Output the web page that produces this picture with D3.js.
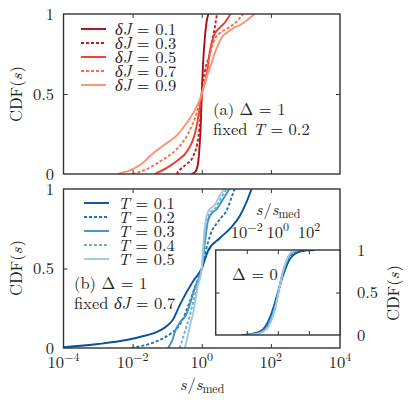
<!DOCTYPE html>
<html>
<head>
<meta charset="utf-8">
<script src="https://cdn.jsdelivr.net/npm/d3@7"></script>
</head>
<body style="margin:0;background:#fff">
<div id="chart"></div>
<script>
// values are [log10(s/s_med), CDF]
var dJLabels = ["0.1", "0.3", "0.5", "0.7", "0.9"];
var dJ01 = [[-0.3,0],[-0.2,0.01],[-0.12,0.05],[-0.07,0.15],[-0.03,0.3],[0,0.5],[0.04,0.7],[0.09,0.85],[0.14,0.95],[0.19,1]];
var dJ03 = [[-0.73,0],[-0.64,0.025],[-0.45,0.06],[-0.25,0.11],[-0.1,0.23],[-0.04,0.35],[0,0.5],[0.1,0.65],[0.23,0.75],[0.32,0.85],[0.38,0.92],[0.44,1]];
var dJ05 = [[-1.36,0],[-1.0,0.04],[-0.73,0.08],[-0.4,0.15],[-0.2,0.25],[-0.08,0.38],[0,0.5],[0.14,0.61],[0.23,0.76],[0.36,0.87],[0.5,0.91],[0.68,0.95],[0.83,1]];
var dJ07 = [[-2.0,0],[-1.6,0.03],[-1.2,0.08],[-0.75,0.15],[-0.4,0.25],[-0.15,0.38],[0,0.5],[0.09,0.58],[0.18,0.69],[0.33,0.82],[0.52,0.88],[0.75,0.91],[0.95,0.94],[1.2,1]];
var dJ09 = [[-2.43,0],[-2.0,0.03],[-1.7,0.07],[-1.46,0.12],[-1.1,0.18],[-0.73,0.24],[-0.4,0.33],[-0.15,0.42],[0,0.5],[0.1,0.58],[0.23,0.66],[0.42,0.78],[0.6,0.86],[0.71,0.88],[0.9,0.91],[1.1,0.93],[1.3,0.96],[1.53,1]];

var TLabels = ["0.1", "0.2", "0.3", "0.4", "0.5"];
var T01 = [[-4,0.005],[-3,0.025],[-2.18,0.05],[-1.6,0.08],[-1.31,0.1],[-1.0,0.14],[-0.83,0.18],[-0.7,0.24],[-0.59,0.29],[-0.25,0.42],[0,0.5],[0.18,0.61],[0.52,0.69],[0.86,0.76],[1.1,0.83],[1.3,0.92],[1.44,1]];
var T02 = [[-2.03,0],[-1.6,0.02],[-1.22,0.05],[-0.9,0.09],[-0.73,0.12],[-0.55,0.18],[-0.4,0.26],[-0.2,0.38],[0,0.5],[0.15,0.64],[0.3,0.74],[0.42,0.78],[0.6,0.83],[0.71,0.86],[0.85,0.94],[0.95,1]];
var T03 = [[-0.98,0],[-0.85,0.05],[-0.78,0.1],[-0.6,0.17],[-0.45,0.21],[-0.38,0.25],[-0.2,0.38],[0,0.5],[0.1,0.68],[0.18,0.8],[0.3,0.85],[0.42,0.87],[0.6,0.93],[0.8,1]];
var T04 = [[-0.64,0],[-0.55,0.06],[-0.45,0.13],[-0.35,0.2],[-0.28,0.26],[-0.12,0.4],[0,0.5],[0.08,0.7],[0.14,0.8],[0.25,0.85],[0.4,0.88],[0.55,0.94],[0.72,1]];
var T05 = [[-0.49,0],[-0.4,0.08],[-0.32,0.16],[-0.27,0.2],[-0.1,0.4],[0,0.5],[0.07,0.72],[0.13,0.82],[0.22,0.87],[0.38,0.9],[0.5,0.95],[0.65,1]];

// inset, Delta = 0
var in01 = [[-2.34,0],[-1.8,0.01],[-1.16,0.04],[-0.8,0.1],[-0.52,0.2],[-0.25,0.34],[0,0.5],[0.22,0.64],[0.45,0.76],[0.7,0.87],[0.99,0.94],[1.4,0.98],[1.85,0.995],[2.39,1]];
var in02 = [[-2.2,0],[-1.6,0.01],[-1.0,0.05],[-0.65,0.13],[-0.35,0.27],[0,0.49],[0.28,0.7],[0.5,0.82],[0.75,0.91],[1.05,0.97],[1.5,0.995],[1.9,1]];
var in03 = [[-2.1,0],[-1.5,0.01],[-0.84,0.06],[-0.5,0.16],[-0.19,0.32],[0,0.47],[0.34,0.74],[0.55,0.86],[0.77,0.94],[1.1,0.985],[1.42,1]];
var in04 = [[-2.0,0],[-1.45,0.01],[-0.8,0.06],[-0.45,0.17],[-0.15,0.34],[0,0.47],[0.32,0.74],[0.55,0.87],[0.77,0.95],[1.1,0.99],[1.4,1]];
var in05 = [[-1.95,0],[-1.4,0.01],[-0.78,0.06],[-0.42,0.17],[-0.12,0.35],[0,0.46],[0.3,0.73],[0.52,0.86],[0.75,0.95],[1.05,0.99],[1.35,1]];

var xTicks = [1e-4, 1e-2, 1, 1e2, 1e4];
var xTickExp = ["\u22124", "\u22122", "0", "2", "4"];
var yTicks = [0, 0.5, 1];
var yTickLabels = ["0", "0.5", "1"];

var reds = ["#a50f15", "#cb181d", "#ef3b2c", "#fb6a4a", "#fc9272"];
var blues = ["#08519c", "#2171b5", "#4292c6", "#6baed6", "#9ecae1"];
var dashed = [false, true, false, true, false];

var FONT = "Latin Modern Roman, Liberation Serif, serif";
var FS = 16.5;

var svg = d3.select("#chart").append("svg")
    .attr("width", 415)
    .attr("height", 402)
    .attr("font-family", FONT);

var x = d3.scaleLog().domain([1e-4, 1e4]).range([63.5, 340]);
var yA = d3.scaleLinear().domain([0, 1]).range([174, 14]);
var yB = d3.scaleLinear().domain([0, 1]).range([348, 189]);
var xi = d3.scaleLog().domain([1e-4, 1e4]).range([215.7, 340]);
var yi = d3.scaleLinear().domain([0, 1]).range([335, 250]);

function txt(xPos, yPos) {
  return svg.append("text")
    .attr("x", xPos).attr("y", yPos)
    .attr("font-family", FONT)
    .attr("font-size", FS)
    .attr("fill", "#222")
    .attr("xml:space", "preserve");
}

function drawFrame(xs, ys, tickLen) {
  var g = svg.append("g");
  var x0 = xs.range()[0], x1 = xs.range()[1], y0 = ys.range()[0], y1 = ys.range()[1];
  // inner ticks on all sides
  g.append("g").attr("transform", `translate(0,${y0})`)
    .call(d3.axisTop(xs).tickValues([1e-2, 1, 1e2]).tickSize(tickLen).tickFormat(""));
  g.append("g").attr("transform", `translate(0,${y1})`)
    .call(d3.axisBottom(xs).tickValues([1e-2, 1, 1e2]).tickSize(tickLen).tickFormat(""));
  g.append("g").attr("transform", `translate(${x0},0)`)
    .call(d3.axisRight(ys).tickValues([0.5]).tickSize(tickLen).tickFormat(""));
  g.append("g").attr("transform", `translate(${x1},0)`)
    .call(d3.axisLeft(ys).tickValues([0.5]).tickSize(tickLen).tickFormat(""));
  g.selectAll(".domain").remove();
  g.selectAll(".tick line").attr("stroke", "#333").attr("stroke-width", 1);
  g.append("rect")
    .attr("x", x0).attr("y", y1)
    .attr("width", x1 - x0).attr("height", y0 - y1)
    .attr("fill", "none").attr("stroke", "#333").attr("stroke-width", 1.4);
  return g;
}

function drawCurves(series, colors, xs, ys, clipId) {
  var line = d3.line()
      .x(d => xs(Math.pow(10, d[0])))
      .y(d => ys(d[1]))
      .curve(d3.curveMonotoneX);
  var g = svg.append("g").attr("clip-path", `url(#${clipId})`);
  series.forEach(function(s, i) {
    g.append("path")
      .attr("d", line(s))
      .attr("fill", "none")
      .attr("stroke", colors[i])
      .attr("stroke-width", 1.9)
      .attr("stroke-dasharray", dashed[i] ? "3,2" : null);
  });
}

function addClip(id, xs, ys) {
  svg.append("clipPath").attr("id", id).append("rect")
    .attr("x", xs.range()[0]).attr("y", ys.range()[1])
    .attr("width", xs.range()[1] - xs.range()[0])
    .attr("height", ys.range()[0] - ys.range()[1]);
}

function yLabels(ys, xPos, anchor) {
  yTicks.forEach(function(v, i) {
    txt(xPos, ys(v) + 5.5)
      .attr("text-anchor", anchor)
      .text(yTickLabels[i]);
  });
}

function cdfLabel(xPos, yPos) {
  var t = txt(0, 0)
    .attr("transform", `translate(${xPos},${yPos}) rotate(-90)`)
    .attr("text-anchor", "middle");
  t.append("tspan").text("CDF(");
  t.append("tspan").attr("font-style", "italic").text("s");
  t.append("tspan").attr("dx", 1).text(")");
}

function powLabel(xPos, yPos, expo) {
  var t = txt(xPos, yPos).attr("text-anchor", "middle");
  t.append("tspan").text("10");
  t.append("tspan").attr("dy", -7).attr("font-size", 12).text(expo);
}

function sLabel(xPos, yPos) {
  var t = txt(xPos, yPos).attr("text-anchor", "middle");
  t.append("tspan").attr("font-style", "italic").text("s");
  t.append("tspan").attr("dx", 1).text("/");
  t.append("tspan").attr("font-style", "italic").text("s");
  t.append("tspan").attr("dy", 3).attr("font-size", 12).text("med");
}

function legend(labels, colors, varName, x0, y0) {
  labels.forEach(function(l, i) {
    var yy = y0 + i * 14;
    svg.append("line")
      .attr("x1", x0).attr("x2", x0 + 25)
      .attr("y1", yy).attr("y2", yy)
      .attr("stroke", colors[i])
      .attr("stroke-width", 1.9)
      .attr("stroke-dasharray", dashed[i] ? "3,2" : null);
    var t = txt(x0 + 34, yy + 5.5);
    t.append("tspan").attr("font-style", "italic").text(varName);
    t.append("tspan").text(" = " + l);
  });
}

// panel (a)
addClip("clipA", x, yA);
drawCurves([dJ01, dJ03, dJ05, dJ07, dJ09], reds, x, yA, "clipA");
drawFrame(x, yA, 4);
yLabels(yA, 54, "end");
cdfLabel(22, 94);
legend(dJLabels, reds, "\u03b4J", 81, 29);

txt(213, 115).text("(a) \u0394 = 1");
var tb = txt(213, 135);
tb.append("tspan").text("fixed ");
tb.append("tspan").attr("font-style", "italic").text("T");
tb.append("tspan").text(" = 0.2");

// panel (b)
addClip("clipB", x, yB);
drawCurves([T01, T02, T03, T04, T05], blues, x, yB, "clipB");
drawFrame(x, yB, 4);
yLabels(yB, 54, "end");
cdfLabel(22, 268);
legend(TLabels, blues, "T", 84, 203);

txt(74, 289).text("(b) \u0394 = 1");
var td = txt(74, 309);
td.append("tspan").text("fixed ");
td.append("tspan").attr("font-style", "italic").text("\u03b4J");
td.append("tspan").text(" = 0.7");

xTicks.forEach(function(v, i) {
  powLabel(x(v), 368, xTickExp[i]);
});
sLabel(202, 390);

// inset, Delta = 0
svg.append("rect")
  .attr("x", xi.range()[0]).attr("y", yi.range()[1])
  .attr("width", xi.range()[1] - xi.range()[0])
  .attr("height", yi.range()[0] - yi.range()[1])
  .attr("fill", "#fff");
addClip("clipI", xi, yi);
drawCurves([in01, in02, in03, in04, in05], blues, xi, yi, "clipI");
drawFrame(xi, yi, 4);
yLabels(yi, 357, "start");
cdfLabel(399, 293);
[1e-2, 1, 1e2].forEach(function(v, i) {
  powLabel(xi(v), 238, xTickExp[i + 1]);
});
sLabel(278, 215);
txt(232, 280).text("\u0394 = 0");
</script>
</body>
</html>
